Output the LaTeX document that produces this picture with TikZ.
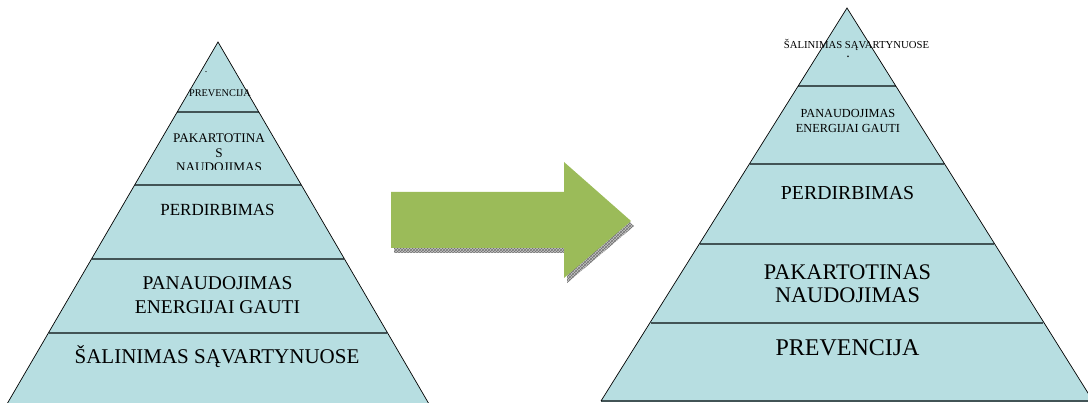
\documentclass[tikz,border=0pt]{standalone}
\usepackage{fontspec}
\setmainfont{Liberation Serif}
\usetikzlibrary{patterns}

\definecolor{piramide}{RGB}{183,222,225}
\definecolor{skyrius}{RGB}{66,84,86}
\definecolor{rodykle}{RGB}{155,187,89}

\def\kvirsx{218}
\def\kvirsy{42}
\def\kposl{0.5817}
\def\dvirsx{847}
\def\dvirsy{8}
\def\dposl{0.6234}
\newcommand{\dydis}[2]{\fontsize{#1}{#2}\selectfont}

\begin{document}
\begin{tikzpicture}[x=1pt,y=-1pt,
    sluoksnis/.style={draw=skyrius, line width=2pt},
    krastas/.style={draw=black, line width=0.7pt},
    uzrasas/.style={inner sep=0pt, align=center, text=black}]
\useasboundingbox (0,0) rectangle (1088,403);

%kairė piramidė
    \fill[piramide] (\kvirsx,\kvirsy) -- (\kvirsx-211,404) -- (\kvirsx+211,404) -- cycle;

    \foreach \y in {112,185,259,333}{
        \pgfmathsetmacro\pusplotis{\kposl*(\y-\kvirsy)}
        \draw[sluoksnis] (\kvirsx-\pusplotis,\y) -- (\kvirsx+\pusplotis,\y);
    }

    \draw[krastas] (\kvirsx-211,404) -- (\kvirsx,\kvirsy) -- (\kvirsx+211,404);

    \node[uzrasas, font=\dydis{10}{12}] (ktaskas) at (206,72) {.};
    \node[uzrasas, anchor=base, font=\dydis{10.3}{12}] (kprev) at (220,96.5) {PREVENCIJA};
    \begin{scope}
        \clip (100,120) rectangle (340,169.5);
        \node[uzrasas, font=\dydis{13.2}{14.5}] (kpak) at (219,153) {PAKARTOTINA\\S\\NAUDOJIMAS};
    \end{scope}
    \node[uzrasas, anchor=base, font=\dydis{17}{20}] (kperd) at (217.5,215.5) {PERDIRBIMAS};
    \node[uzrasas, font=\dydis{19.5}{24}] (kpan) at (217.5,295) {PANAUDOJIMAS\\ENERGIJAI GAUTI};
    \node[uzrasas, anchor=base, font=\dydis{21}{24}] (ksal) at (217,364) {ŠALINIMAS SĄVARTYNUOSE};

%rodyklė
    \def\rodyklekelias{(391,192) -- (564,192) -- (564,162) -- (631,221) -- (564,278) -- (564,248) -- (391,248) -- cycle}
    \fill[gray!45, xshift=3pt, yshift=-5pt] \rodyklekelias;
    \fill[pattern=crosshatch, pattern color=gray!90!black, xshift=3pt, yshift=-5pt] \rodyklekelias;
    \fill[rodykle] \rodyklekelias;

%dešinė piramidė
    \fill[piramide] (\dvirsx,\dvirsy) -- (\dvirsx-246,401) -- (\dvirsx+246,401) -- cycle;

    \foreach \y in {86,164,244,323}{
        \pgfmathsetmacro\pusplotis{\dposl*(\y-\dvirsy)}
        \draw[sluoksnis] (\dvirsx-\pusplotis,\y) -- (\dvirsx+\pusplotis,\y);
    }
    \draw[sluoksnis] (\dvirsx-246,401) -- (\dvirsx+246,401);

    \draw[krastas] (\dvirsx-246,401) -- (\dvirsx,\dvirsy) -- (\dvirsx+246,401);

    \node[uzrasas, anchor=base, font=\dydis{10.7}{12}] (dsal) at (856.5,48.5) {ŠALINIMAS SĄVARTYNUOSE};
    \node[uzrasas, font=\dydis{14}{14}] (dtaskas) at (848,57) {.};
    \node[uzrasas, font=\dydis{12.3}{15}] (dpan) at (848,120.5) {PANAUDOJIMAS\\ENERGIJAI GAUTI};
    \node[uzrasas, anchor=base, font=\dydis{19.8}{22}] (dperd) at (847.5,199.5) {PERDIRBIMAS};
    \node[uzrasas, font=\dydis{22.3}{23}] (dpak) at (847.5,283.5) {PAKARTOTINAS\\NAUDOJIMAS};
    \node[uzrasas, anchor=base, font=\dydis{24}{26}] (dprev) at (847.5,356) {PREVENCIJA};

\end{tikzpicture}
\end{document}
